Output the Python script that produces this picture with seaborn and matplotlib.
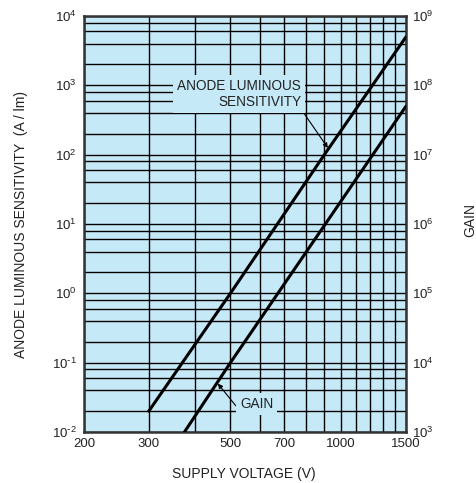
import matplotlib
matplotlib.use("Agg")
import matplotlib.pyplot as plt
import seaborn as sns
import pandas as pd
import numpy as np

# values
anode_voltage = [300, 500, 900, 1500]
anode_sensitivity = [0.02, 1, 100, 5000]

gain_voltage = [375, 500, 1500]
gain_values = [1e3, 1e4, 5e7]

x_ticks = [200, 300, 500, 700, 1000, 1500]
x_minor = [400, 600, 800, 900, 1100, 1200, 1300, 1400]
left_exp = [-2, -1, 0, 1, 2, 3, 4]
right_exp = [3, 4, 5, 6, 7, 8, 9]


def sup(e):
    # plain hyphen in the exponent, like the printed chart
    if e < 0:
        return "10$^{\\text{-}" + str(-e) + "}$"
    return "10$^{" + str(e) + "}$"


sns.set_theme(style="white")
plt.rcParams["font.family"] = ["Liberation Sans", "DejaVu Sans"]
plt.rcParams["mathtext.default"] = "regular"

bg = "#C6E9F8"
txt = "#222222"
fig = plt.figure(figsize=(4.77, 4.83), dpi=100)
ax = fig.add_axes([84 / 477, 1 - 432 / 483, 322 / 477, 416 / 483])
ax.set_facecolor(bg)

anode_df = pd.DataFrame({"voltage": anode_voltage, "value": anode_sensitivity})
sns.lineplot(data=anode_df, x="voltage", y="value", ax=ax, color="black",
             linewidth=2.2, zorder=5)

ax.set_xscale("log")
ax.set_yscale("log")
ax.set_xlim(200, 1500)
ax.set_ylim(1e-2, 1e4)

ax.set_xticks(x_ticks)
ax.set_xticklabels([str(v) for v in x_ticks])
ax.set_xticks(x_minor, minor=True)
ax.set_xticklabels([], minor=True)

ax.set_yticks([10.0 ** e for e in left_exp])
ax.set_yticklabels([sup(e) for e in left_exp])
ymin = [m * 10.0 ** e for e in left_exp[:-1] for m in (2, 4, 6, 8)]
ax.set_yticks(ymin, minor=True)
ax.set_yticklabels([], minor=True)

ax.grid(True, which="both", color="black", linewidth=1.0)
ax.set_axisbelow(True)
ax.tick_params(which="both", length=0, labelsize=9.5, colors=txt)
ax.tick_params(axis="y", pad=5)
ax.tick_params(axis="x", pad=4)
for s in ax.spines.values():
    s.set_color("#333333")
    s.set_linewidth(1.8)

ax2 = ax.twinx()
gain_df = pd.DataFrame({"voltage": gain_voltage, "value": gain_values})
sns.lineplot(data=gain_df, x="voltage", y="value", ax=ax2, color="black",
             linewidth=2.2, zorder=5)
ax2.set_yscale("log")
ax2.set_ylim(1e3, 1e9)
ax2.set_yticks([10.0 ** e for e in right_exp])
ax2.set_yticklabels([sup(e) for e in right_exp])
ax2.yaxis.set_minor_locator(matplotlib.ticker.NullLocator())
ax2.tick_params(which="both", length=0, labelsize=9.5, colors=txt, pad=4)
ax2.grid(False)
for s in ax2.spines.values():
    s.set_visible(False)

ax.set_xlabel("SUPPLY VOLTAGE (V)", fontsize=10, color=txt)
ax.set_ylabel("ANODE LUMINOUS SENSITIVITY  (A / lm)", fontsize=10, color=txt)
ax2.set_ylabel("GAIN", fontsize=10, color=txt)
ax.xaxis.set_label_coords(0.495, -0.084)
ax.yaxis.set_label_coords(-0.174, 0.5)
ax2.yaxis.set_label_coords(1.177, 0.51)

box = dict(boxstyle="square,pad=0.3", facecolor=bg, edgecolor="none")
ax.annotate("ANODE LUMINOUS\nSENSITIVITY", xy=(920, 125), xytext=(778, 750),
            ha="right", va="center", fontsize=9.8, color=txt,
            multialignment="right", bbox=box, zorder=6,
            arrowprops=dict(arrowstyle="-|>", color="black", lw=0.8,
                            mutation_scale=7, relpos=(1, 0),
                            shrinkA=0, shrinkB=0))
ax.annotate("GAIN", xy=(462, 0.05), xytext=(589, 0.0254),
            ha="center", va="center", fontsize=9.8, color=txt,
            bbox=box, zorder=6,
            arrowprops=dict(arrowstyle="-|>", color="black", lw=0.8,
                            mutation_scale=7, relpos=(0, 0),
                            shrinkA=0, shrinkB=0))

fig.savefig("out.png", dpi=100)
